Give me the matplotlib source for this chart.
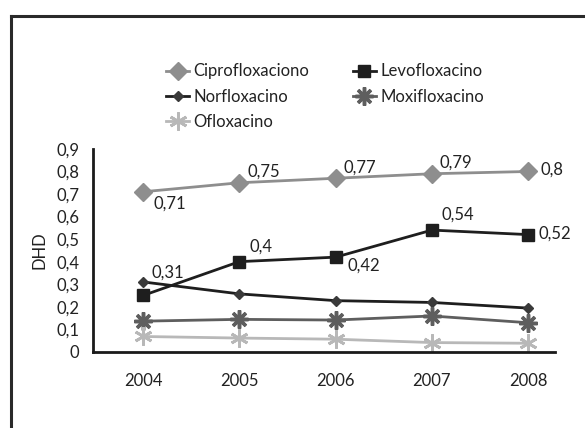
import matplotlib
matplotlib.use("Agg")
import matplotlib.pyplot as plt
from matplotlib.lines import Line2D

plt.rcParams['font.family'] = ['Lato', 'DejaVu Sans']

years = ['2004', '2005', '2006', '2007', '2008']
cipro = [0.71, 0.75, 0.77, 0.79, 0.80]
levo = [0.25, 0.40, 0.42, 0.54, 0.52]
norflox = [0.31, 0.257, 0.227, 0.219, 0.194]
moxi = [0.136, 0.144, 0.141, 0.159, 0.129]
oflox = [0.068, 0.061, 0.056, 0.041, 0.038]
y_ticks = [0, 0.1, 0.2, 0.3, 0.4, 0.5, 0.6, 0.7, 0.8, 0.9]

fig = plt.figure(figsize=(5.85, 4.28), dpi=100)
ax = fig.add_axes([0.159, 0.178, 0.79, 0.474])
x = list(range(len(years)))

h_cipro, = ax.plot(x, cipro, color='#8e8e8e', lw=2, marker='D', ms=9,
                   label='Ciprofloxaciono')
h_levo, = ax.plot(x, levo, color='#1e1e1e', lw=2, marker='s', ms=9,
                  label='Levofloxacino')
h_norf, = ax.plot(x, norflox, color='#1e1e1e', lw=2, marker='D', ms=5,
                  mfc='#3a3a3a', mec='#3a3a3a', label='Norfloxacino')
h_moxi, = ax.plot(x, moxi, color='#5e5e5e', lw=2, marker=(8, 2, 0), ms=13,
                  mew=2.5, label='Moxifloxacino')
h_oflo, = ax.plot(x, oflox, color='#b8b8b8', lw=2, marker=(6, 2, 0), ms=13,
                  mew=2, label='Ofloxacino')

fs = 12
txt = '#222222'

# data labels (offset in pixels from each point)
cipro_offsets = [(10, -17), (8, 6), (8, 6), (8, 6), (12, -3)]
for i, (v, off) in enumerate(zip(cipro, cipro_offsets)):
    ax.annotate(f'{v:g}'.replace('.', ','), (i, v), textcoords='offset pixels',
                xytext=off, fontsize=fs, color=txt, va='baseline')
levo_offsets = {1: (10, 10), 2: (12, -13), 3: (10, 10), 4: (10, -4)}
for i, off in levo_offsets.items():
    ax.annotate(f'{levo[i]:g}'.replace('.', ','), (i, levo[i]),
                textcoords='offset pixels', xytext=off, fontsize=fs,
                color=txt, va='baseline')
ax.annotate(f'{norflox[0]:g}'.replace('.', ','), (0, norflox[0]),
            textcoords='offset pixels', xytext=(8, 4), fontsize=fs,
            color=txt, va='baseline')

ax.set_xlim(-0.52, 4.28)
ax.set_ylim(0, 0.9)
ax.set_yticks(y_ticks)
ax.set_yticklabels([f'{t:g}'.replace('.', ',') for t in y_ticks])
ax.set_xticks(x)
ax.set_xticklabels(years)
ax.tick_params(length=0, labelsize=fs, labelcolor=txt)
ax.tick_params(axis='x', pad=15)
ax.tick_params(axis='y', pad=10)
ax.set_ylabel('DHD', fontsize=fs, color=txt, labelpad=6)
for s in ['top', 'right']:
    ax.spines[s].set_visible(False)
for s in ['left', 'bottom']:
    ax.spines[s].set_linewidth(2)
    ax.spines[s].set_color('#1a1a1a')

fig.legend(handles=[h_cipro, h_norf, h_oflo, h_levo, h_moxi], ncol=2,
           loc='upper left', bbox_to_anchor=(0.258, 0.887), frameon=False,
           fontsize=fs, handlelength=1.4, handletextpad=0.25,
           columnspacing=2.6, labelspacing=0.55, labelcolor=txt)

# outer frame (left and top edges)
fig.add_artist(Line2D([0.018, 0.018], [0, 0.962], color='#2a2a2a', lw=2.2))
fig.add_artist(Line2D([0.018, 1.0], [0.962, 0.962], color='#2a2a2a', lw=2.2))

fig.savefig('out.png', dpi=100)
